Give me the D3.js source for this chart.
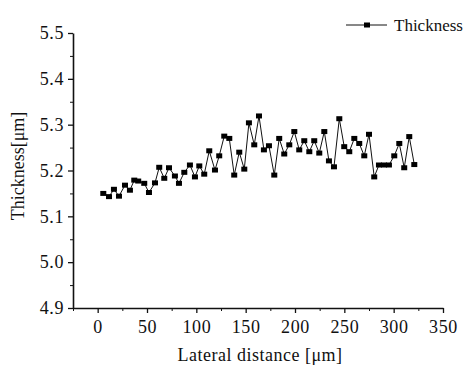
<!DOCTYPE html>
<html><head><meta charset="utf-8">
<script src="https://cdn.jsdelivr.net/npm/d3@7"></script>
<style>body{margin:0;background:#fff}svg{display:block}svg text{font-family:"Liberation Serif","DejaVu Serif",serif !important;fill:#111}</style>
</head><body>
<svg id="c" width="476" height="369"></svg>
<script>
const distance = [5.7,11.5,16.5,21.6,27.7,32.7,37.1,41.1,47.2,52.0,58.1,62.4,67.5,72.3,78.3,82.4,87.8,93.5,98.6,103.0,108.0,113.1,118.9,123.2,128.3,133.4,138.4,143.5,148.6,153.3,158.7,163.5,168.5,173.6,179.0,184.0,189.1,194.2,199.3,204.3,209.4,214.5,219.5,224.6,229.7,234.4,239.5,244.9,249.9,255.0,260.1,265.1,270.2,275.0,280.3,285.1,290.2,295.2,300.6,305.7,310.7,315.8,320.9];
const thickness = [5.150,5.143,5.159,5.144,5.168,5.157,5.179,5.177,5.172,5.152,5.173,5.207,5.183,5.206,5.188,5.172,5.196,5.212,5.186,5.210,5.192,5.243,5.201,5.232,5.275,5.270,5.190,5.240,5.203,5.304,5.256,5.319,5.245,5.254,5.190,5.270,5.236,5.256,5.285,5.245,5.265,5.241,5.265,5.238,5.285,5.221,5.208,5.313,5.252,5.241,5.270,5.259,5.232,5.279,5.186,5.212,5.212,5.212,5.232,5.259,5.206,5.274,5.213];
const xTicks = [0,50,100,150,200,250,300,350];
const xMinor = [-25,25,75,125,175,225,275,325];
const yTicks = [4.9,5.0,5.1,5.2,5.3,5.4,5.5];
const yMinor = [4.95,5.05,5.15,5.25,5.35,5.45];
const seriesName = "Thickness";
const xTitle = "Lateral distance [\u03bcm]";
const yTitle = "Thickness[\u03bcm]";

const svg = d3.select("#c");
const x = d3.scaleLinear().domain([-25,350]).range([73,443]);
const y = d3.scaleLinear().domain([4.9,5.5]).range([308,33]);

function styleAxis(g){
  g.attr("font-family",null);
  g.select(".domain").attr("stroke","#111").attr("stroke-width",1.6);
  g.selectAll(".tick line").attr("stroke","#111").attr("stroke-width",1.3);
  g.selectAll(".tick text").style("font-family","'Liberation Serif', serif").attr("font-size",18).style("letter-spacing","0.6px").attr("fill","#111");
}
svg.append("g").attr("transform","translate(0,308)")
  .call(d3.axisBottom(x).tickValues(xMinor).tickSize(3).tickFormat(""))
  .call(g=>{g.select(".domain").remove();g.selectAll("line").attr("stroke","#111");});
svg.append("g").attr("transform","translate(73,0)")
  .call(d3.axisLeft(y).tickValues(yMinor).tickSize(3).tickFormat(""))
  .call(g=>{g.select(".domain").remove();g.selectAll("line").attr("stroke","#111");});

svg.append("g").attr("transform","translate(0,308)")
  .call(d3.axisBottom(x).tickValues(xTicks).tickSize(5).tickSizeOuter(0).tickPadding(7).tickFormat(d3.format("d")))
  .call(styleAxis);
svg.append("g").attr("transform","translate(73,0)")
  .call(d3.axisLeft(y).tickValues(yTicks).tickSize(5).tickSizeOuter(0).tickPadding(4).tickFormat(d3.format(".1f")))
  .call(styleAxis);

const pts = distance.map((d,i)=>[d,thickness[i]]);
svg.append("path").datum(pts)
  .attr("fill","none").attr("stroke","#111").attr("stroke-width",1)
  .attr("d",d3.line().x(d=>x(d[0])).y(d=>y(d[1])));
svg.append("g").selectAll("rect").data(pts).join("rect")
  .attr("x",d=>x(d[0])-3).attr("y",d=>y(d[1])-2.5)
  .attr("width",6).attr("height",5).attr("fill","#000");

const lg = svg.append("g");
lg.append("line").attr("x1",346).attr("x2",387).attr("y1",25).attr("y2",25).attr("stroke","#111").attr("stroke-width",1);
lg.append("rect").attr("x",364).attr("y",22.5).attr("width",6).attr("height",5).attr("fill","#000");
lg.append("text").attr("x",394).attr("y",31).attr("font-size",17).text(seriesName);

svg.append("text").attr("x",260).attr("y",361).attr("text-anchor","middle").attr("font-size",18).style("letter-spacing","0.5px").text(xTitle);
svg.append("text").attr("transform","translate(24,166) rotate(-90)").attr("text-anchor","middle").attr("font-size",18).text(yTitle);
</script>
</body></html>
